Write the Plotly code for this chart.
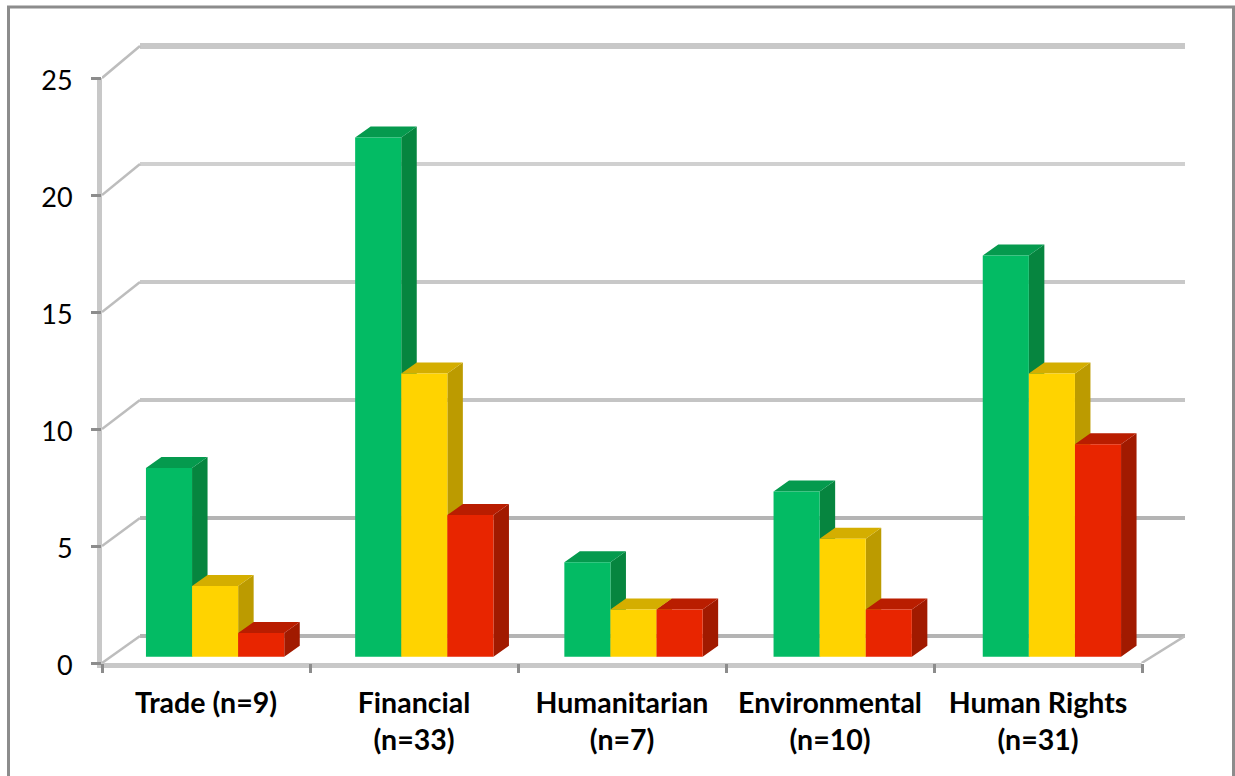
import plotly.graph_objects as go

# Chart data
categories = ["Trade (n=9)", "Financial<br>(n=33)", "Humanitarian<br>(n=7)",
              "Environmental<br>(n=10)", "Human Rights<br>(n=31)"]
green_values = [8, 22, 4, 7, 17]
yellow_values = [3, 12, 2, 5, 12]
red_values = [1, 6, 2, 2, 9]
y_ticks = [0, 5, 10, 15, 20, 25]

# Colours of each series: front, side and top faces
series = [
    (green_values, "#03BB64", "#06853F", "#059A4E"),
    (yellow_values, "#FFD300", "#BC9B00", "#D4AE00"),
    (red_values, "#E82500", "#A11A00", "#B91D00"),
]
grid_styles = {0: ("#b4b4b4", 4), 5: ("#b4b4b4", 4), 10: ("#c4c4c4", 4),
               15: ("#c8c8c8", 4), 20: ("#d0d0d0", 4), 25: ("#c8c8c8", 6)}
WALL = "#c8c8c8"
EDGE = "#8c8c8c"
FONT = "Lato"

# Page layout in pixels
W, H = 1235, 776
LEFT, RIGHT, TOP, BOTTOM = 102, 1185, 40, 663

# Axis scales: the front axis, and the receding plane holding the bars and back wall
FRONT_PX = 23.4
BAR_PX = 23.6
BAR_BASE_PX = 656.7
STEP_PX = 209.2
FIRST_CENTER_PX = 215.1
BAR_W = 46.1 / STEP_PX
DX = 15.5 / STEP_PX
DY = 11.0 / BAR_PX
WALL_DX = 38.0 / STEP_PX
WALL_RISE = (BAR_BASE_PX - 636.0) / BAR_PX


def px_x(px):
    return (px - FIRST_CENTER_PX) / STEP_PX


def px_y(py):
    return (BAR_BASE_PX - py) / BAR_PX


def front_y(tick):
    return px_y(BOTTOM - FRONT_PX * tick)


def paper_x(px):
    return (px - LEFT) / (RIGHT - LEFT)


def paper_y(py):
    return (BOTTOM - py) / (BOTTOM - TOP)


x_front_left = px_x(LEFT)
x_front_right = px_x(1141.7)
x_back_left = x_front_left + WALL_DX
x_back_right = px_x(RIGHT)

fig = go.Figure()


def line(xs, ys, color, width):
    fig.add_trace(go.Scatter(
        x=xs, y=ys, mode="lines", line=dict(color=color, width=width),
        xaxis="x2", yaxis="y2", hoverinfo="skip", showlegend=False, zorder=0))


# Back wall gridlines and the receding edges of the left wall
for t in y_ticks:
    color, width = grid_styles[t]
    line([x_back_left, x_back_right], [t + WALL_RISE] * 2, color, width)
    line([x_front_left, x_back_left], [front_y(t), t + WALL_RISE], "#bdbdbd", 2.5)

# Right floor edge
line([x_front_right, x_back_right], [front_y(0), WALL_RISE], "#bdbdbd", 2.5)

# Bars, drawn back to front within each group: side and top faces, then the front
for j, (values, front, side, top) in enumerate(series):
    offset = (j - 1.5) * BAR_W
    sx, sy, tx, ty = [], [], [], []
    for i, v in enumerate(values):
        l = i + offset
        r = l + BAR_W
        sx += [r, r + DX, r + DX, r, r, None]
        sy += [0, DY, v + DY, v, 0, None]
        tx += [l, l + DX, r + DX, r, l, None]
        ty += [v, v + DY, v + DY, v, v, None]
    for xs, ys, color in ((sx, sy, side), (tx, ty, top)):
        fig.add_trace(go.Scatter(
            x=xs, y=ys, mode="lines", fill="toself", fillcolor=color,
            line=dict(width=0, color=color), xaxis="x2", yaxis="y2",
            hoverinfo="skip", showlegend=False, zorder=2 * j + 1))
    fig.add_trace(go.Bar(
        x=list(range(len(values))), y=values, width=BAR_W, offset=offset,
        marker=dict(color=front, line=dict(width=0)),
        xaxis="x2", yaxis="y2", hoverinfo="skip", showlegend=False,
        zorder=2 * j + 2))

# Invisible category trace so the labelled axis keeps its categories
fig.add_trace(go.Scatter(x=categories, y=[0] * len(categories), mode="none",
                         hoverinfo="skip", showlegend=False))

plot_h = BOTTOM - TOP
fig.update_layout(
    width=W, height=H,
    margin=dict(l=LEFT, r=W - RIGHT, t=TOP, b=H - BOTTOM, pad=0, autoexpand=False),
    paper_bgcolor="white", plot_bgcolor="rgba(0,0,0,0)",
    barmode="overlay", showlegend=False,
    font=dict(family=FONT, color="black"),
    xaxis=dict(
        type="category", categoryorder="array", categoryarray=categories,
        tickson="boundaries", ticks="outside", ticklen=9, tickwidth=2.5, tickcolor=EDGE,
        range=[-0.5, -0.5 + (RIGHT - LEFT) / 208.0],
        tickfont=dict(family=FONT, size=28.5, weight=700, color="black"),
        ticklabelstandoff=20, tickangle=0, showgrid=False, zeroline=False, showline=False,
    ),
    yaxis=dict(
        range=[0, plot_h / FRONT_PX], tickmode="array", tickvals=y_ticks,
        ticks="outside", ticklen=10, tickwidth=2.5, tickcolor=EDGE,
        tickfont=dict(family=FONT, size=27, color="black"),
        ticklabelstandoff=13, ticklabelshift=3,
        showgrid=False, zeroline=False, showline=False,
    ),
    xaxis2=dict(overlaying="x", anchor="y2", visible=False,
                range=[x_front_left, x_back_right]),
    yaxis2=dict(overlaying="y", anchor="x2", visible=False,
                range=[px_y(BOTTOM), px_y(TOP)]),
    shapes=[
        # Outer frame of the chart, running off the bottom of the page
        dict(type="rect", xref="paper", yref="paper",
             x0=paper_x(8.5), x1=paper_x(1233.5), y0=paper_y(790), y1=paper_y(7),
             line=dict(color=EDGE, width=3), fillcolor="rgba(0,0,0,0)"),
        # Vertical wall band and front floor band
        dict(type="line", xref="paper", yref="paper", layer="below",
             x0=paper_x(99.5), x1=paper_x(99.5), y0=paper_y(668), y1=paper_y(78),
             line=dict(color=WALL, width=5)),
        dict(type="line", xref="paper", yref="paper", layer="below",
             x0=paper_x(97), x1=paper_x(1141.7), y0=paper_y(665.5), y1=paper_y(665.5),
             line=dict(color=WALL, width=5)),
    ],
)

fig.write_html("out.html")
